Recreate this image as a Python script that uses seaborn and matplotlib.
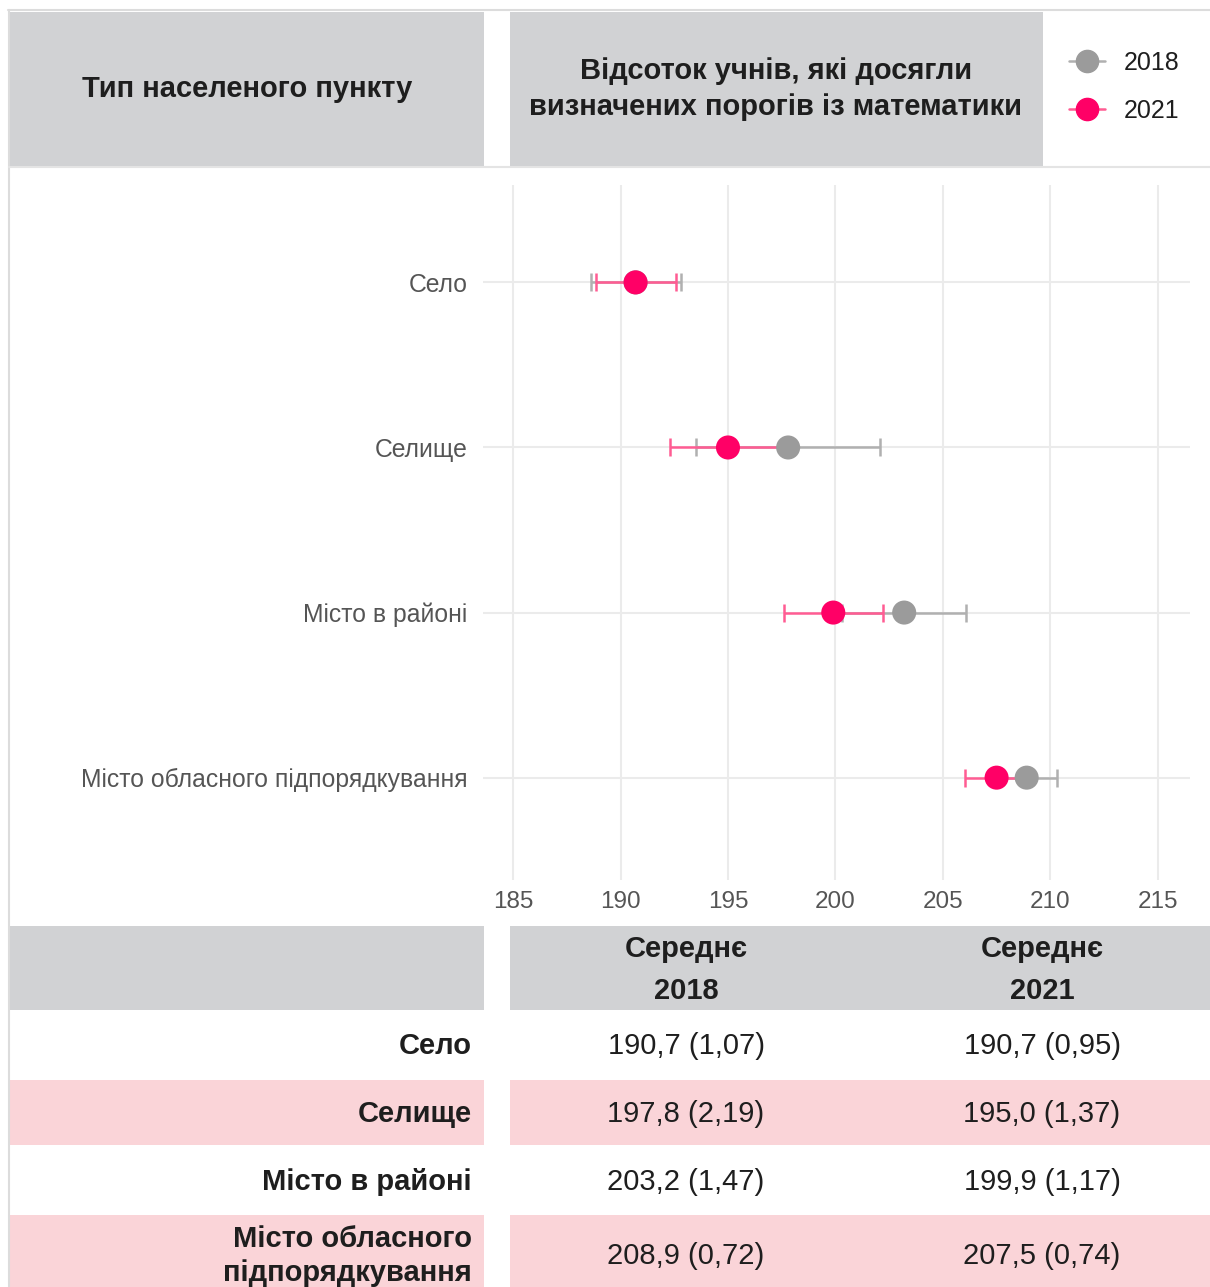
import matplotlib
matplotlib.use("Agg")
import matplotlib.pyplot as plt
from matplotlib.patches import Rectangle
from matplotlib.lines import Line2D
import seaborn as sns
import pandas as pd

# ---- data -------------------------------------------------------------
categories = ["Село", "Селище", "Місто в районі", "Місто обласного підпорядкування"]
table_labels = ["Село", "Селище", "Місто в районі", "Місто обласного\nпідпорядкування"]
years = ["2018", "2021"]
mean_2018 = [190.7, 197.8, 203.2, 208.9]
se_2018 = [1.07, 2.19, 1.47, 0.72]
mean_2021 = [190.7, 195.0, 199.9, 207.5]
se_2021 = [0.95, 1.37, 1.17, 0.74]
x_ticks = [185, 190, 195, 200, 205, 210, 215]

header_left = "Тип населеного пункту"
header_right = "Відсоток учнів, які досягли\nвизначених порогів із математики"
col_headers = ["Середнє\n2018", "Середнє\n2021"]

# ---- styling ----------------------------------------------------------
W, H = 1210, 1287
GREY_BOX = "#d1d2d4"
PINK_ROW = "#fad4d8"
C2018 = "#9b9b9b"
C2018_LINE = "#b0b0b0"
C2021 = "#ff0066"
C2021_LINE = "#ff5c93"
TEXT = "#1e1e1e"
TICK = "#555555"
BIG = 21

sns.set_theme(style="whitegrid")
plt.rcParams["font.family"] = ["Liberation Sans", "DejaVu Sans"]

fig = plt.figure(figsize=(W / 100, H / 100), dpi=100)
fig.patch.set_facecolor("white")


def fx(px):
    return px / W


def fy(py):
    return 1 - py / H


def box(x0, y0, x1, y1, color, z=0):
    fig.patches.append(Rectangle((fx(x0), fy(y1)), fx(x1) - fx(x0), fy(y0) - fy(y1),
                                 transform=fig.transFigure, facecolor=color,
                                 edgecolor="none", zorder=z))


def hline(y, x0, x1, color="#dcdcdc", lw=1.5):
    fig.add_artist(Line2D([fx(x0), fx(x1)], [fy(y), fy(y)], transform=fig.transFigure,
                          color=color, lw=lw))


def vline(x, y0, y1, color="#dcdcdc", lw=1.5):
    fig.add_artist(Line2D([fx(x), fx(x)], [fy(y0), fy(y1)], transform=fig.transFigure,
                          color=color, lw=lw))


# outer frame
hline(10, 8, W)
vline(9, 10, H)
hline(167, 9, W, color="#e4e4e4")

# header boxes
box(10, 12, 484, 166, GREY_BOX)
box(510, 12, 1043, 166, GREY_BOX)
fig.text(fx(247), fy(89), header_left, ha="center", va="center",
         fontsize=BIG, fontweight="bold", color=TEXT)
fig.text(fx(776), fy(89), header_right, ha="center", va="center",
         fontsize=BIG, fontweight="bold", color=TEXT, linespacing=1.37)

# ---- dot plot ---------------------------------------------------------
ax_left, ax_right, ax_top, ax_bottom = 483, 1190, 185, 880
ax = fig.add_axes([fx(ax_left), fy(ax_bottom), fx(ax_right) - fx(ax_left),
                   fy(ax_top) - fy(ax_bottom)])

df = pd.DataFrame({
    "category": categories * 2,
    "year": [years[0]] * 4 + [years[1]] * 4,
    "mean": mean_2018 + mean_2021,
    "se": se_2018 + se_2021,
})
df["ci"] = 1.96 * df["se"]
ypos = {c: i for i, c in enumerate(categories)}
df["ypos"] = df["category"].map(ypos)

line_colors = {years[0]: C2018_LINE, years[1]: C2021_LINE}
dot_colors = {years[0]: C2018, years[1]: C2021}

for yr in years:
    sub = df[df["year"] == yr]
    ax.errorbar(sub["mean"], sub["ypos"], xerr=sub["ci"], fmt="none",
                ecolor=line_colors[yr], elinewidth=1.8, capsize=6.5, capthick=1.8,
                zorder=3)

sns.scatterplot(data=df, x="mean", y="ypos", hue="year", palette=dot_colors,
                s=300, edgecolor="none", linewidth=0, legend=False, ax=ax, zorder=4)

ax.set_xlim(183.6, 216.5)
ax.set_ylim(3.62, -0.59)
ax.set_xticks(x_ticks)
ax.set_xticklabels([str(t) for t in x_ticks])
ax.set_yticks(range(len(categories)))
ax.set_yticklabels(categories)
ax.set_xlabel("")
ax.set_ylabel("")
ax.tick_params(axis="x", colors=TICK, labelsize=17.5, pad=8, length=0)
ax.tick_params(axis="y", colors=TICK, labelsize=17.8, pad=11, length=0)
ax.grid(True, color="#ebebeb", lw=1.5)
for s in ax.spines.values():
    s.set_visible(False)
ax.set_facecolor("white")

# legend in header
handles = [Line2D([0], [0], color=line_colors[y], marker="o", markersize=16,
                  markerfacecolor=dot_colors[y], markeredgecolor=dot_colors[y],
                  lw=1.8, label=y) for y in years]
fig.legend(handles=handles, loc="upper left", bbox_to_anchor=(fx(1069), fy(51)),
           frameon=False, fontsize=18, handlelength=1.45, handletextpad=0.75,
           labelspacing=0.95, labelcolor=TEXT, borderaxespad=0, borderpad=0)

# ---- table ------------------------------------------------------------
box(10, 926, 484, 1010, GREY_BOX)
box(510, 926, W, 1010, GREY_BOX)
col_x = [686, 1042]
for cx, txt in zip(col_x, col_headers):
    fig.text(fx(cx), fy(970), txt, ha="center", va="center", fontsize=BIG,
             fontweight="bold", color=TEXT, linespacing=1.68)

row_bounds = [(1012, 1078), (1080, 1145), (1147, 1213), (1215, 1287)]
row_centers = [1046, 1114, 1182, 1256]
for i, (y0, y1) in enumerate(row_bounds):
    if i % 2 == 1:
        box(10, y0, 484, y1, PINK_ROW)
        box(510, y0, W, y1, PINK_ROW)
    yc = row_centers[i]
    fig.text(fx(472), fy(yc), table_labels[i], ha="right", va="center",
             fontsize=BIG, fontweight="bold", color=TEXT, linespacing=1.24)
    fig.text(fx(col_x[0]), fy(yc), f"{mean_2018[i]:.1f} ({se_2018[i]:.2f})".replace(".", ","),
             ha="center", va="center", fontsize=BIG, color=TEXT)
    fig.text(fx(col_x[1]), fy(yc), f"{mean_2021[i]:.1f} ({se_2021[i]:.2f})".replace(".", ","),
             ha="center", va="center", fontsize=BIG, color=TEXT)

fig.savefig("out.png", dpi=100)
